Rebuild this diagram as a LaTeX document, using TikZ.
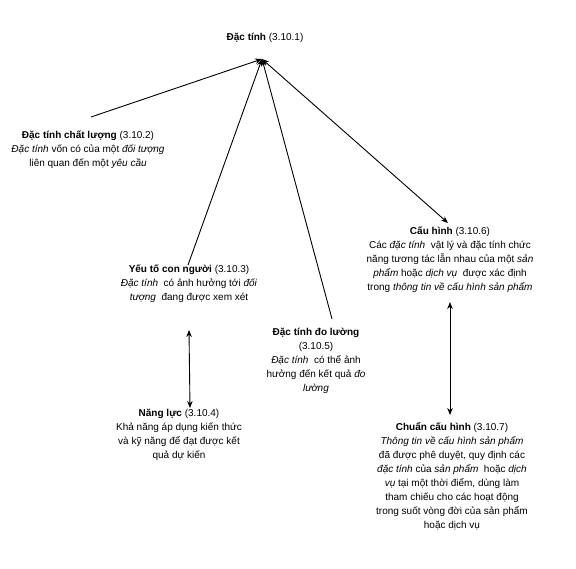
\documentclass[tikz,border=0pt]{standalone}
\usepackage{fontspec}
\setmainfont{Liberation Sans}
\usetikzlibrary{arrows.meta}
\begin{document}
\begin{tikzpicture}[x=1pt,y=-1pt,
  txt/.style={align=center,inner sep=0pt,font=\fontsize{10pt}{14pt}\selectfont},
  conn/.style={line width=0.9pt,-{Stealth[length=7pt,width=5.5pt]}},
  dconn/.style={line width=0.9pt,{Stealth[length=7pt,width=5.5pt]}-{Stealth[length=7pt,width=5.5pt]}}]
\useasboundingbox[fill=white] (0,0) rectangle (576,568);
\node[txt] (top) at (265,38) {\textbf{Đặc tính} (3.10.1)};
\node[txt] (qual) at (88,150) {\textbf{Đặc tính chất lượng} (3.10.2)\\ \textit{Đặc tính} vốn có của một \textit{đối tượng}\\ liên quan đến một \textit{yêu cầu}};
\node[txt] (cauhinh) at (450,260) {\textbf{Cấu hình} (3.10.6)\\ Các \textit{đặc tính}\ \ vật lý và đặc tính chức\\ năng tương tác lẫn nhau của một \textit{sản}\\ \textit{phẩm} hoặc \textit{dịch vụ}\ \ được xác định\\ trong \textit{thông tin về cấu hình sản phẩm}};
\node[txt] (yeuto) at (189,284) {\textbf{Yếu tố con người} (3.10.3)\\ \textit{Đặc tính}\ \ có ảnh hưởng tới \textit{đối}\\ \textit{tượng}\ \ đang được xem xét};
\node[txt] (dotuong) at (316,361) {\textbf{Đặc tính đo lường}\\ (3.10.5)\\ \textit{Đặc tính}\ \ có thể ảnh\\ hưởng đến kết quả \textit{đo}\\ \textit{lường}};
\node[txt] (nangluc) at (179,435) {\textbf{Năng lực} (3.10.4)\\ Khả năng áp dụng kiến thức\\ và kỹ năng để đạt được kết\\ quả dự kiến};
\node[txt] (chuan) at (452,476) {\textbf{Chuẩn cấu hình} (3.10.7)\\ \textit{Thông tin về cấu hình sản phẩm}\\ đã được phê duyệt, quy định các\\ \textit{đặc tính} của \textit{sản phẩm}\ \ hoặc \textit{dịch}\\ \textit{vụ} tại một thời điểm, dùng làm\\ tham chiếu cho các hoạt động\\ trong suốt vòng đời của sản phẩm\\ hoặc dịch vụ};
\coordinate (hub) at (262,59);
\coordinate (qualE) at (91,117);
\coordinate (yeutoE) at (188,265);
\coordinate (doE) at (332,319);
\coordinate (chE) at (448,223);
\coordinate (ytB) at (189,330);
\coordinate (nlT) at (190,408);
\coordinate (chB) at (450,302);
\coordinate (cuT) at (450,415);
\draw[conn] (qualE) -- (hub);
\draw[conn] (yeutoE) -- (hub);
\draw[conn] (doE) -- (hub);
\draw[dconn] (hub) -- (chE);
\draw[dconn] (ytB) -- (nlT);
\draw[dconn] (chB) -- (cuT);
\end{tikzpicture}
\end{document}
